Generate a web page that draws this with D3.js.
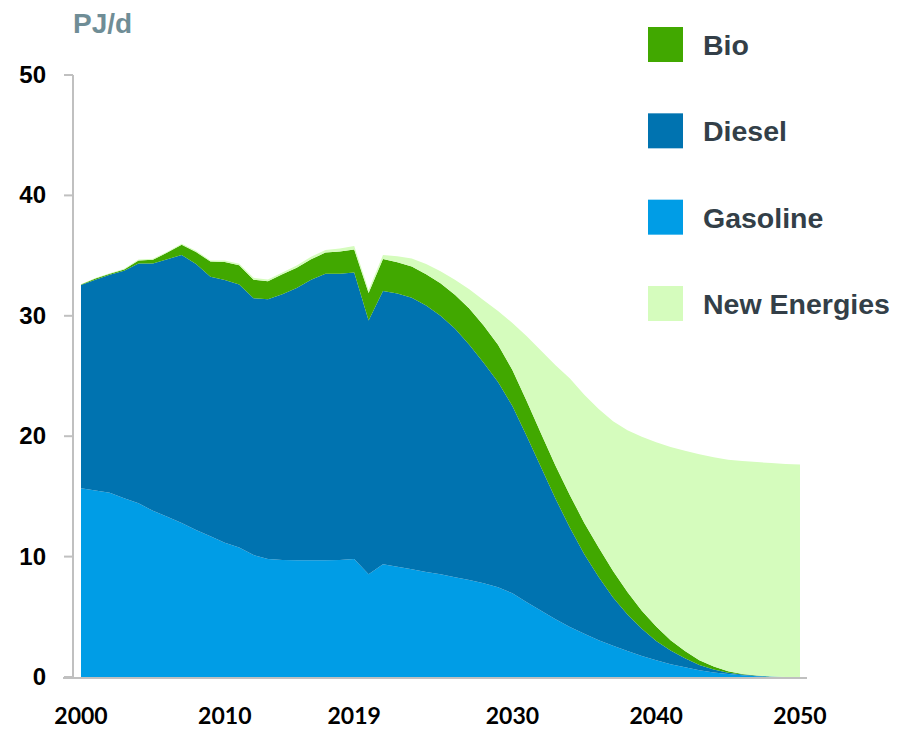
<!DOCTYPE html>
<html>
<head>
<meta charset="utf-8">
<script src="https://cdn.jsdelivr.net/npm/d3@7"></script>
<style>
  body { margin: 0; background: #fff; }
  svg { display: block; }
</style>
</head>
<body>
<script>
// road transport fuel demand, PJ/d
var years = [2000, 2001, 2002, 2003, 2004, 2005, 2006, 2007, 2008, 2009,
             2010, 2011, 2012, 2013, 2014, 2015, 2016, 2017, 2018, 2019,
             2020, 2021, 2022, 2023, 2024, 2025, 2026, 2027, 2028, 2029,
             2030, 2031, 2032, 2033, 2034, 2035, 2036, 2037, 2038, 2039,
             2040, 2041, 2042, 2043, 2044, 2045, 2046, 2047, 2048, 2049, 2050];

var gasoline = [15.67, 15.5, 15.3, 14.85, 14.43, 13.8, 13.3, 12.8, 12.2, 11.7,
                11.15, 10.75, 10.13, 9.8, 9.72, 9.69, 9.69, 9.69, 9.72, 9.8,
                8.53, 9.36, 9.16, 8.94, 8.72, 8.53, 8.28, 8.06, 7.78, 7.45,
                6.95, 6.2, 5.5, 4.8, 4.15, 3.6, 3.05, 2.6, 2.15, 1.75,
                1.4, 1.05, 0.8, 0.57, 0.38, 0.24, 0.14, 0.07, 0.03, 0.01, 0];

var diesel = [16.89, 17.5, 18.1, 18.9, 19.92, 20.55, 21.4, 22.25, 22.1, 21.55,
              21.82, 21.85, 21.32, 21.57, 22.08, 22.61, 23.31, 23.81, 23.78, 23.8,
              21.07, 22.7, 22.69, 22.56, 22.13, 21.47, 20.67, 19.54, 18.32, 17.05,
              15.55, 13.8, 11.9, 10.0, 8.25, 6.6, 5.25, 4.0, 3.05, 2.25,
              1.6, 1.15, 0.75, 0.43, 0.24, 0.12, 0.06, 0.03, 0.01, 0, 0];

var bio = [0.05, 0.1, 0.1, 0.1, 0.25, 0.3, 0.55, 0.85, 1.0, 1.25,
           1.5, 1.6, 1.55, 1.5, 1.65, 1.7, 1.7, 1.75, 1.85, 1.9,
           2.3, 2.65, 2.6, 2.6, 2.6, 2.7, 2.8, 3.0, 3.1, 3.1,
           3.0, 2.9, 2.8, 2.75, 2.7, 2.6, 2.45, 2.2, 1.85, 1.5,
           1.2, 0.85, 0.6, 0.4, 0.25, 0.12, 0.05, 0.02, 0.01, 0, 0];

var newEnergies = [0.02, 0.03, 0.03, 0.05, 0.08, 0.08, 0.08, 0.08, 0.1, 0.1,
                   0.12, 0.12, 0.15, 0.15, 0.15, 0.18, 0.2, 0.22, 0.25, 0.3,
                   0.25, 0.34, 0.5, 0.65, 0.85, 1.0, 1.25, 1.6, 2.1, 2.8,
                   3.9, 5.4, 6.9, 8.35, 9.7, 10.65, 11.5, 12.45, 13.45, 14.45,
                   15.3, 16.05, 16.65, 17.1, 17.38, 17.57, 17.7, 17.73, 17.72, 17.69, 17.65];

var xTicks = [2000, 2010, 2019, 2030, 2040, 2050];
var yTicks = [0, 10, 20, 30, 40, 50];

// stacking order, bottom to top
var keys   = ["Gasoline", "Diesel", "Bio", "New Energies"];
var colors = {"Gasoline": "#009de6", "Diesel": "#0073b0", "Bio": "#41a800", "New Energies": "#d5fcbd"};
var legendOrder = ["Bio", "Diesel", "Gasoline", "New Energies"];

var width = 897, height = 729;

var rows = years.map(function(y, i) {
  return {year: y, "Gasoline": gasoline[i], "Diesel": diesel[i],
          "Bio": bio[i], "New Energies": newEnergies[i]};
});

var x = d3.scaleLinear().domain([2000, 2050]).range([81, 800]);
var y = d3.scaleLinear().domain([0, 50]).range([677, 75]);

var svg = d3.select("body").append("svg")
    .attr("width", width)
    .attr("height", height);

var series = d3.stack().keys(keys)(rows);

var area = d3.area()
    .x(function(d) { return x(d.data.year); })
    .y0(function(d) { return y(d[0]); })
    .y1(function(d) { return y(d[1]); });

svg.append("g").selectAll("path")
  .data(series)
  .enter().append("path")
    .attr("fill", function(s) { return colors[s.key]; })
    .attr("d", area);

// axes
var axisColor = "#c0c0c0";

svg.append("line")
    .attr("x1", 73).attr("x2", 73)
    .attr("y1", y(50)).attr("y2", y(0) + 1)
    .attr("stroke", axisColor).attr("stroke-width", 2);

svg.append("line")
    .attr("x1", 63).attr("x2", 807)
    .attr("y1", y(0) + 1).attr("y2", y(0) + 1)
    .attr("stroke", axisColor).attr("stroke-width", 2);

var yAxis = svg.append("g");
yAxis.selectAll("line")
  .data(yTicks)
  .enter().append("line")
    .attr("x1", 64).attr("x2", 73)
    .attr("y1", function(d) { return y(d); })
    .attr("y2", function(d) { return y(d); })
    .attr("stroke", axisColor).attr("stroke-width", 2);

yAxis.selectAll("text")
  .data(yTicks)
  .enter().append("text")
    .attr("x", 46)
    .attr("y", function(d) { return y(d) + 8; })
    .attr("text-anchor", "end")
    .style("font-family", "'Liberation Sans', Arial, sans-serif")
    .style("font-weight", "bold")
    .style("font-size", "24px")
    .attr("fill", "#000")
    .text(function(d) { return d; });

svg.append("g").selectAll("text")
  .data(xTicks)
  .enter().append("text")
    .attr("x", function(d) { return x(d); })
    .attr("y", 724)
    .attr("text-anchor", "middle")
    .style("font-family", "Lato, 'Open Sans', sans-serif")
    .style("font-weight", "bold")
    .style("font-size", "23px")
    .attr("fill", "#000")
    .text(function(d) { return d; });

svg.append("text")
    .attr("x", 73)
    .attr("y", 33)
    .style("font-family", "'Liberation Sans', Arial, sans-serif")
    .style("font-weight", "bold")
    .style("font-size", "28px")
    .attr("fill", "#6f8d96")
    .text("PJ/d");

// legend
var ly = d3.scalePoint().domain(legendOrder).range([27, 286]);

var legend = svg.append("g").selectAll("g")
  .data(legendOrder)
  .enter().append("g")
    .attr("transform", function(d) { return "translate(648," + ly(d) + ")"; });

legend.append("rect")
    .attr("width", 35).attr("height", 35)
    .attr("fill", function(d) { return colors[d]; });

legend.append("text")
    .attr("x", 55)
    .attr("y", 28)
    .style("font-family", "'Liberation Sans', Arial, sans-serif")
    .style("font-weight", "bold")
    .style("font-size", "28.5px")
    .attr("fill", "#333f48")
    .text(function(d) { return d; });
</script>
</body>
</html>
